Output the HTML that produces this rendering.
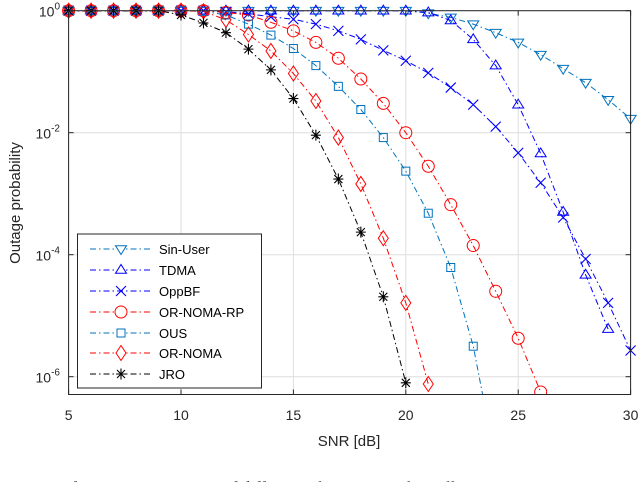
<!DOCTYPE html>
<html><head><meta charset="utf-8"><style>
html,body{margin:0;padding:0;background:#fff;width:640px;height:482px;overflow:hidden}
svg{display:block;font-family:"Liberation Sans",Arial,sans-serif}
</style></head><body>
<svg id="chart" width="640" height="482" viewBox="0 0 640 482">
<defs><clipPath id="clip"><rect x="68.6" y="10.7" width="562" height="384"/></clipPath>
<clipPath id="clipm"><rect x="60" y="0" width="580" height="394.5"/></clipPath></defs>
</svg>
<script>
const xs = [5,6,7,8,9,10,11,12,13,14,15,16,17,18,19,20,21,22,23,24,25,26,27,28,29,30];
const sinUser = [0,0,0,0,0,0,0,0,0,0,0,0,0,0,0,0,-0.04,-0.11,-0.22,-0.36,-0.52,-0.72,-0.95,-1.18,-1.46,-1.77];
const tdma = [0,0,0,0,0,0,0,0,0,0,0,0,0,0,0,0,-0.03,-0.16,-0.47,-0.9,-1.54,-2.34,-3.3,-4.33,-5.22];
const oppbf = [0,0,0,0,0,0,0,-0.02,-0.05,-0.1,-0.14,-0.22,-0.33,-0.47,-0.65,-0.82,-1.02,-1.26,-1.54,-1.9,-2.33,-2.82,-3.39,-4.07,-4.79,-5.57];
const ornomaRp = [0,0,0,0,0,0,0,-0.03,-0.07,-0.19,-0.33,-0.52,-0.78,-1.12,-1.52,-2.0,-2.55,-3.18,-3.85,-4.6,-5.37,-6.25];
const ous = [0,0,0,0,0,0,-0.01,-0.07,-0.22,-0.4,-0.62,-0.9,-1.24,-1.62,-2.08,-2.63,-3.32,-4.21,-5.5,-7.4];
const ornoma = [0,0,0,0,0,0,-0.01,-0.15,-0.39,-0.66,-1.03,-1.48,-2.08,-2.84,-3.73,-4.79,-6.12];
const jro = [0,0,0,0,0,-0.07,-0.2,-0.36,-0.63,-0.97,-1.44,-2.04,-2.76,-3.63,-4.69,-6.1];
const xTicks = [5,10,15,20,25,30];
const yTicks = [0,-2,-4,-6];

const svg = document.getElementById('chart');
const NS = 'http://www.w3.org/2000/svg';
const X0=68.6,X1=630.6,YT=10.7,YB=394.5;
const xS = x => X0 + (x-5)*(X1-X0)/25;
const yS = l => YT - l*61;
function mk(tag, attrs, parent){const e=document.createElementNS(NS,tag);for(const k in attrs)e.setAttribute(k,attrs[k]);(parent||svg).appendChild(e);return e;}

const grid = mk('g',{});


xTicks.forEach(t=>{mk('line',{x1:xS(t),x2:xS(t),y1:YT,y2:YB,stroke:'#dedede','stroke-width':1},grid);});
yTicks.forEach(t=>{mk('line',{x1:X0,x2:X1,y1:yS(t),y2:yS(t),stroke:'#dedede','stroke-width':1},grid);});

function marker(g,type,x,y,c){
  const s=5.5;
  if(type==='tdown') mk('path',{d:`M${x-s},${y-s*0.6}L${x+s},${y-s*0.6}L${x},${y+s}Z`,fill:'none',stroke:c,'stroke-width':1},g);
  else if(type==='tup') mk('path',{d:`M${x-s},${y+s*0.6}L${x+s},${y+s*0.6}L${x},${y-s}Z`,fill:'none',stroke:c,'stroke-width':1},g);
  else if(type==='x') mk('path',{d:`M${x-5},${y-5}L${x+5},${y+5}M${x-5},${y+5}L${x+5},${y-5}`,stroke:c,'stroke-width':1.1},g);
  else if(type==='o') mk('circle',{cx:x,cy:y,r:6,fill:'none',stroke:c,'stroke-width':1},g);
  else if(type==='sq') mk('rect',{x:x-4,y:y-4,width:8,height:8,fill:'none',stroke:c,'stroke-width':1},g);
  else if(type==='d') mk('path',{d:`M${x},${y-7.5}L${x+5},${y}L${x},${y+7.5}L${x-5},${y}Z`,fill:'none',stroke:c,'stroke-width':1},g);
  else if(type==='star') mk('path',{d:`M${x-5},${y}L${x+5},${y}M${x},${y-5.5}L${x},${y+5.5}M${x-4},${y-4}L${x+4},${y+4}M${x-4},${y+4}L${x+4},${y-4}`,stroke:c,'stroke-width':1.1},g);
}
const LB='#0072BD', B='#0000FF', R='#FF0000', K='#000';
const series=[[sinUser,LB,'tdown','sin-user'],[tdma,B,'tup','tdma'],[oppbf,B,'x','oppbf'],[ornomaRp,R,'o','or-noma-rp'],[ous,LB,'sq','ous'],[ornoma,R,'d','or-noma'],[jro,K,'star','jro']];
series.forEach(([vals,c,m,n])=>{
  const g=mk('g',{});
  
  
  const lg=mk('g',{'clip-path':'url(#clip)'},g);
  const pts=vals.map((v,i)=>xS(xs[i])+','+yS(v)).join(' ');
  mk('polyline',{points:pts,fill:'none',stroke:c,'stroke-width':1,'stroke-dasharray':'6,3,1.5,3'},lg);
  const mg=mk('g',{'clip-path':'url(#clipm)'},g);
  vals.forEach((v,i)=>marker(mg,m,xS(xs[i]),yS(v),c));
});

const ax=mk('rect',{x:X0,y:YT,width:X1-X0,height:YB-YT,fill:'none',stroke:'#262626','stroke-width':1});


xTicks.forEach(t=>{
  mk('line',{x1:xS(t),x2:xS(t),y1:YB,y2:YB-5,stroke:'#262626'});
  mk('line',{x1:xS(t),x2:xS(t),y1:YT,y2:YT+5,stroke:'#262626'});
  const tx=mk('text',{x:xS(t),y:420,'text-anchor':'middle','font-size':14,fill:'#262626'});
  tx.textContent=t;
  
  
});
yTicks.forEach(t=>{
  mk('line',{x1:X0,x2:X0+5,y1:yS(t),y2:yS(t),stroke:'#262626'});
  mk('line',{x1:X1,x2:X1-5,y1:yS(t),y2:yS(t),stroke:'#262626'});
  const tx=mk('text',{x:60,y:yS(t)+6,'text-anchor':'end','font-size':14,fill:'#262626'});
  tx.textContent='10';
  const sp=mk('tspan',{dy:-7,'font-size':10},tx);
  sp.textContent=String(t);
  
  
});
</script>
<svg style="position:absolute;left:0;top:0" width="640" height="482">
<text x="349" y="446" text-anchor="middle" font-size="15" fill="#262626" font-family="Liberation Sans, sans-serif">SNR [dB]</text>
<text transform="translate(20,203) rotate(-90)" text-anchor="middle" font-size="15" fill="#262626" font-family="Liberation Sans, sans-serif">Outage probability</text>
<g font-family="Liberation Sans, sans-serif" font-size="13" fill="#000">
<rect x="77.5" y="234" width="184" height="154" fill="#fff" stroke="#262626" stroke-width="1"/>
<g><line x1="90" x2="152" y1="249" y2="249" stroke="#0072BD" stroke-dasharray="6,3,1.5,3"/><path d="M115.5,245.7L126.5,245.7L121,254.5Z" fill="#fff" stroke="#0072BD"/><text x="159" y="254">Sin-User</text></g>
<g><line x1="90" x2="152" y1="270" y2="270" stroke="#0000FF" stroke-dasharray="6,3,1.5,3"/><path d="M115.5,273.3L126.5,273.3L121,264.5Z" fill="#fff" stroke="#0000FF"/><text x="159" y="275">TDMA</text></g>
<g><line x1="90" x2="152" y1="291" y2="291" stroke="#0000FF" stroke-dasharray="6,3,1.5,3"/><path d="M116,286L126,296M116,296L126,286" stroke="#0000FF" stroke-width="1.1"/><text x="159" y="296">OppBF</text></g>
<g><line x1="90" x2="152" y1="312" y2="312" stroke="#FF0000" stroke-dasharray="6,3,1.5,3"/><circle cx="121" cy="312" r="6" fill="#fff" stroke="#FF0000"/><text x="159" y="317">OR-NOMA-RP</text></g>
<g><line x1="90" x2="152" y1="333" y2="333" stroke="#0072BD" stroke-dasharray="6,3,1.5,3"/><rect x="117" y="329" width="8" height="8" fill="#fff" stroke="#0072BD"/><text x="159" y="338">OUS</text></g>
<g><line x1="90" x2="152" y1="353" y2="353" stroke="#FF0000" stroke-dasharray="6,3,1.5,3"/><path d="M121,345.5L126,353L121,360.5L116,353Z" fill="#fff" stroke="#FF0000"/><text x="159" y="358">OR-NOMA</text></g>
<g><line x1="90" x2="152" y1="374" y2="374" stroke="#000" stroke-dasharray="6,3,1.5,3"/><path d="M116,374L126,374M121,368.5L121,379.5M117,370L125,378M117,378L125,370" stroke="#000" stroke-width="1.1"/><text x="159" y="379">JRO</text></g>
</g>
<text x="0" y="493" font-size="17" fill="#444" font-family="Liberation Serif, serif">Fig. 3: Performance comparison of different schemes. Fourth, to illustrate</text>
</svg>
</body></html>
